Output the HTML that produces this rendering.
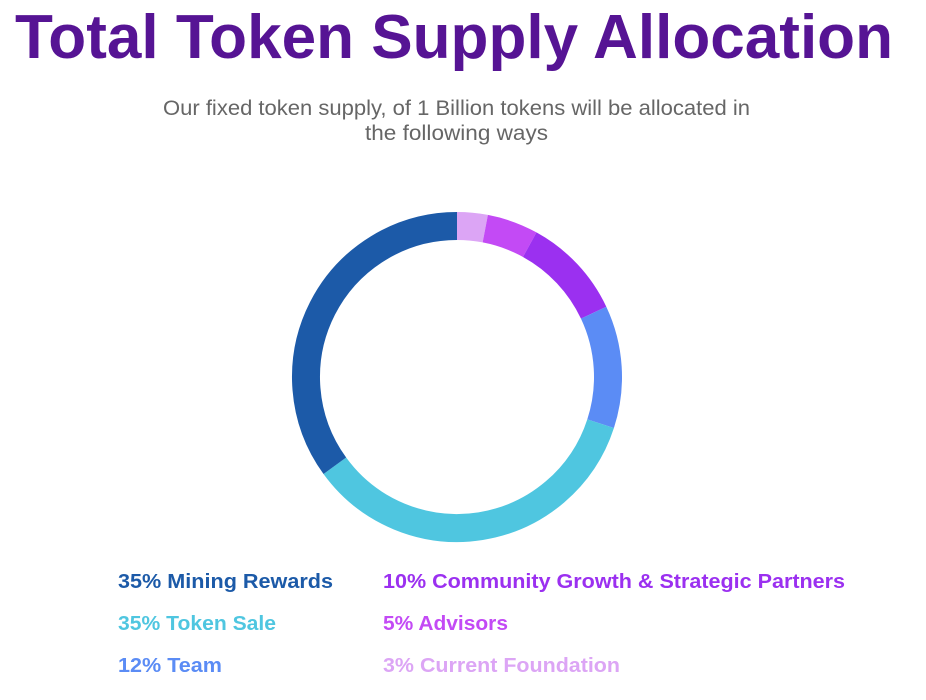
<!DOCTYPE html>
<html><head><meta charset="utf-8"><style>
html,body{margin:0;padding:0;background:#fff;width:926px;height:700px;overflow:hidden}
svg text{font-family:"Liberation Sans",sans-serif}
</style></head><body>
<svg id="chart" width="926" height="700">
<text x="15" y="58" font-size="62" font-weight="bold" fill="#561494" textLength="878" lengthAdjust="spacingAndGlyphs">Total Token Supply Allocation</text>
<text x="163" y="115" font-size="21" fill="#666" textLength="587" lengthAdjust="spacingAndGlyphs">Our fixed token supply, of 1 Billion tokens will be allocated in</text>
<text x="365" y="140" font-size="21" fill="#666" textLength="183" lengthAdjust="spacingAndGlyphs">the following ways</text>
<g id="ring"></g>
<g id="legend"></g>
</svg>
<script>
// clockwise order starting from top
const categories = ["Current Foundation","Advisors","Community Growth & Strategic Partners","Team","Token Sale","Mining Rewards"];
const values = [3,5,10,12,35,35];
const colors = ["#dca5f5","#c34af5","#9b30f0","#5b8cf5","#4fc6e0","#1c5aa8"];
// legend layout order
const legendOrder = [5,2,4,1,3,0];
const legendWidths = [215,462,158,125,104,237];

const NS="http://www.w3.org/2000/svg";
const cx=457, cy=377, r=151, sw=28;
const total=values.reduce((a,b)=>a+b,0);
function angle(v){return v/total*2*Math.PI;}
function pt(a){return [cx+r*Math.sin(a), cy-r*Math.cos(a)];}
const ring=document.getElementById('ring');
let acc=0;
values.forEach((v,i)=>{
  const a0=angle(acc), a1=angle(acc+v); acc+=v;
  const [x0,y0]=pt(a0),[x1,y1]=pt(a1);
  const p=document.createElementNS(NS,'path');
  p.setAttribute('d',`M${x0},${y0} A${r},${r} 0 ${a1-a0>Math.PI?1:0} 1 ${x1},${y1}`);
  p.setAttribute('fill','none');p.setAttribute('stroke',colors[i]);p.setAttribute('stroke-width',sw);
  
  
  ring.appendChild(p);
});
const legend=document.getElementById('legend');
legendOrder.forEach((idx,k)=>{
  const col=k%2,row=Math.floor(k/2);
  const t=document.createElementNS(NS,'text');
  t.setAttribute('x',col?383:118);t.setAttribute('y',588+row*42);
  t.setAttribute('font-size','20');t.setAttribute('font-weight','bold');
  t.setAttribute('fill',colors[idx]);
  t.setAttribute('textLength',legendWidths[k]);t.setAttribute('lengthAdjust','spacingAndGlyphs');
  t.textContent=values[idx]+"% "+categories[idx];
  
  
  legend.appendChild(t);
});
</script>
</body></html>
